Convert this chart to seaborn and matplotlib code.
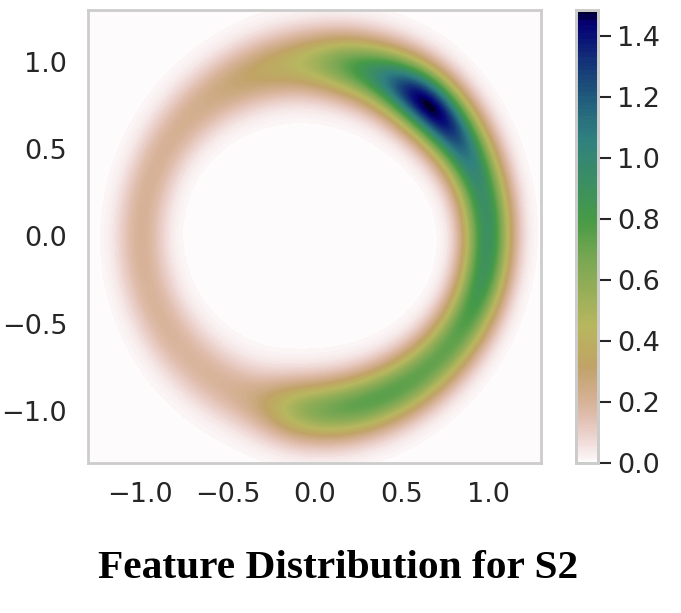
import numpy as np
import pandas as pd
import matplotlib
matplotlib.use("Agg")
import matplotlib.pyplot as plt
import seaborn as sns

# density along the ring, every 5 degrees
angle_deg = list(range(0, 360, 5))
ring_density = [
    0.62, 0.63, 0.64, 0.66, 0.70, 0.76, 0.85, 0.97, 1.10, 1.23, 1.30, 1.23,
    1.08, 0.94, 0.80, 0.72, 0.64, 0.54, 0.44, 0.38, 0.34, 0.31, 0.28, 0.25,
    0.22, 0.20, 0.18, 0.17, 0.16, 0.15, 0.15, 0.14, 0.14, 0.14, 0.14, 0.14,
    0.14, 0.14, 0.14, 0.14, 0.14, 0.14, 0.15, 0.15, 0.15, 0.15, 0.16, 0.16,
    0.17, 0.18, 0.21, 0.28, 0.40, 0.50, 0.56, 0.60, 0.63, 0.64, 0.64, 0.63,
    0.61, 0.59, 0.57, 0.55, 0.54, 0.54, 0.55, 0.56, 0.58, 0.60, 0.61, 0.62,
]
ring_radius = 1.0

axis_ticks = [-1.0, -0.5, 0.0, 0.5, 1.0]
cbar_ticks = [0.0, 0.2, 0.4, 0.6, 0.8, 1.0, 1.2, 1.4]

theta = np.deg2rad(angle_deg)
df = pd.DataFrame({
    "x": ring_radius * np.cos(theta),
    "y": ring_radius * np.sin(theta),
    "w": ring_density,
})

sns.set_theme(style="whitegrid")
plt.rcParams["font.family"] = ["DejaVu Sans"]

W, H = 681, 613
fig = plt.figure(figsize=(W / 100, H / 100), dpi=100)
ax = fig.add_axes([88 / W, 1 - 463 / H, 453 / W, 453 / H])
cax = fig.add_axes([576 / W, 1 - 463 / H, 22 / W, 453 / H])

cmap = plt.get_cmap("gist_earth_r")
ax.set_facecolor(cmap(0.0))

sns.kdeplot(
    data=df, x="x", y="y", weights="w", ax=ax,
    fill=True, cmap=cmap, levels=256, thresh=0,
    gridsize=220, bw_method=0.165, cut=6,
    cbar=True, cbar_ax=cax, cbar_kws={"spacing": "proportional"}, antialiased=False,
)

ax.set_xlim(-1.3, 1.3)
ax.set_ylim(-1.3, 1.3)
ax.set_xlabel("")
ax.set_ylabel("")
ax.set_xticks(axis_ticks)
ax.set_yticks(axis_ticks)
ax.grid(False)
ax.tick_params(axis="x", labelsize=19.5, length=0, pad=14, colors=".15")
ax.tick_params(axis="y", labelsize=19.5, length=0, pad=15, colors=".15")
for spine in ax.spines.values():
    spine.set_color(".8")
    spine.set_linewidth(2)

cax.set_yticks(cbar_ticks)
cax.tick_params(axis="y", labelsize=19.5, length=9, width=1.5, pad=5, colors=".15",
                right=True, left=False)
cax.set_ylabel("")
cax.grid(False)
for spine in cax.spines.values():
    spine.set_color(".8")
    spine.set_linewidth(2)
    spine.set_visible(True)

fig.text(338 / W, 1 - 568 / H, "Feature Distribution for S2", ha="center", va="center",
         family="Liberation Serif", weight="bold", fontsize=29.8, color="black")

fig.savefig("out.png", dpi=100)
print(cax.get_ylim())
